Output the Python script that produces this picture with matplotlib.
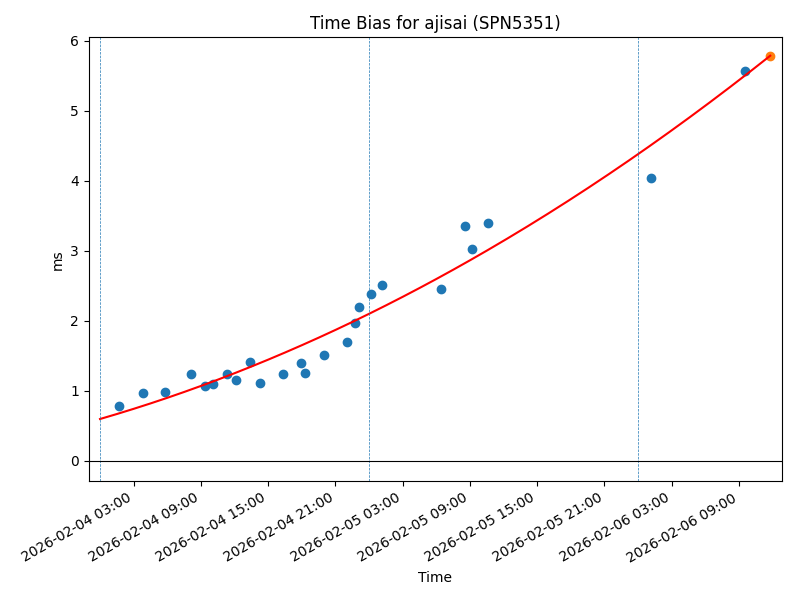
import matplotlib
matplotlib.use("Agg")
import matplotlib.pyplot as plt
import matplotlib.dates as mdates
import numpy as np
import pandas as pd

# observed time bias, ms
obs_times = [
    "2026-02-04 01:40", "2026-02-04 03:50", "2026-02-04 05:48", "2026-02-04 08:07",
    "2026-02-04 09:22", "2026-02-04 10:05", "2026-02-04 11:20", "2026-02-04 12:07",
    "2026-02-04 13:22", "2026-02-04 14:17", "2026-02-04 16:20", "2026-02-04 17:56",
    "2026-02-04 18:17", "2026-02-04 19:59", "2026-02-04 22:02", "2026-02-04 22:45",
    "2026-02-04 23:07", "2026-02-05 00:11", "2026-02-05 01:10", "2026-02-05 06:25",
    "2026-02-05 08:32", "2026-02-05 09:11", "2026-02-05 10:37", "2026-02-06 01:08",
    "2026-02-06 09:31",
]
obs_bias = [
    0.78, 0.97, 0.99, 1.24, 1.07, 1.10, 1.24, 1.15, 1.41, 1.11,
    1.24, 1.40, 1.26, 1.51, 1.70, 1.97, 2.20, 2.39, 2.51, 2.46,
    3.36, 3.03, 3.40, 4.04, 5.57,
]

fit_start = "2026-02-04 00:00"
fit_end = "2026-02-06 11:47"
midnights = ["2026-02-04", "2026-02-05", "2026-02-06"]

t = pd.to_datetime(obs_times)
t0 = pd.Timestamp(fit_start)
hours = (t - t0).total_seconds().values / 3600.0
coef = np.polyfit(hours, obs_bias, 2)

end_h = (pd.Timestamp(fit_end) - t0).total_seconds() / 3600.0
fit_h = np.linspace(0, end_h, 200)
fit_t = t0 + pd.to_timedelta(fit_h, unit="h")
fit_v = np.polyval(coef, fit_h)

fig, ax = plt.subplots(figsize=(8, 6), dpi=100)
ax.scatter(t, obs_bias)
ax.plot(fit_t, fit_v, color="red")
ax.scatter([fit_t[-1]], [fit_v[-1]], color="C1")
for d in midnights:
    ax.axvline(pd.Timestamp(d), linestyle="--", linewidth=0.5)
ax.axhline(0, color="black", linewidth=0.8)

ax.set_xlim(pd.Timestamp("2026-02-03 23:00"), pd.Timestamp("2026-02-06 12:50"))
ax.set_ylim(-0.29, 6.05)
ax.xaxis.set_major_locator(mdates.HourLocator(byhour=[3, 9, 15, 21]))
ax.xaxis.set_major_formatter(mdates.DateFormatter("%Y-%m-%d %H:%M"))
plt.setp(ax.get_xticklabels(), rotation=30, ha="right")

ax.set_title("Time Bias for ajisai (SPN5351)")
ax.set_xlabel("Time")
ax.set_ylabel("ms")
fig.subplots_adjust(left=0.111, right=0.9775, top=0.938, bottom=0.198)
fig.savefig("out.png")
